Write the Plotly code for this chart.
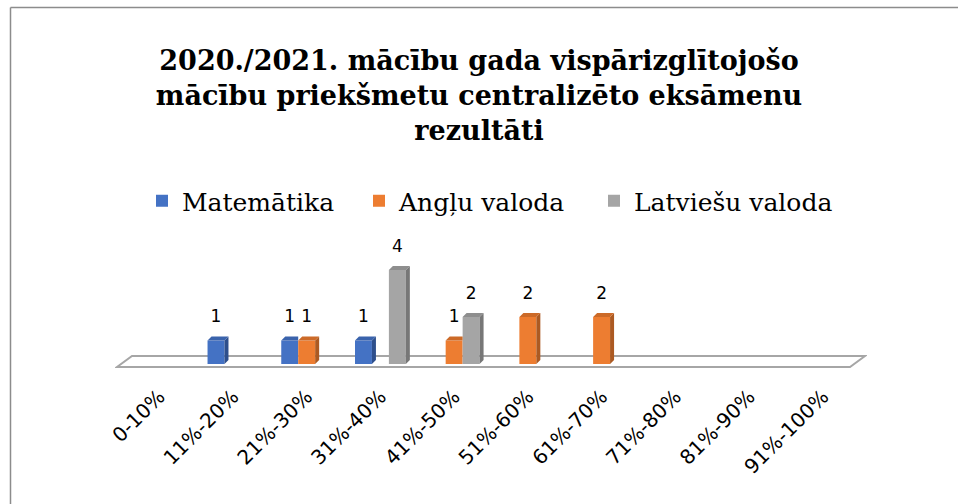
import plotly.graph_objects as go

# ---------------- data ----------------
categories = ["0-10%", "11%-20%", "21%-30%", "31%-40%", "41%-50%",
              "51%-60%", "61%-70%", "71%-80%", "81%-90%", "91%-100%"]
series_names = ["Matemātika", "Angļu valoda", "Latviešu valoda"]
matematika = [0, 1, 1, 1, 0, 0, 0, 0, 0, 0]
anglu_valoda = [0, 0, 1, 0, 1, 2, 2, 0, 0, 0]
latviesu_valoda = [0, 0, 0, 4, 2, 0, 0, 0, 0, 0]
title_lines = ["2020./2021. mācību gada vispārizglītojošo",
               "mācību priekšmetu centralizēto eksāmenu",
               "rezultāti"]

# ---------------- styling ----------------
front_colors = ["#4472C4", "#ED7D31", "#A5A5A5"]
side_colors = ["#2E4F8C", "#AC5A22", "#777777"]
top_colors = ["#3A63AC", "#CC6A28", "#8E8E8E"]
legend_x_px = [142, 359, 594]

W, H = 958, 504
PL, PR = 115, 867          # plot area left/right (px)
PT, PB = 240, 380          # plot area top/bottom (px)
X0, X1 = -0.6, 9.6
BASE_PX = 364              # pixel of value 0
PPU = 23.5                 # pixels per unit
Y0 = (BASE_PX - PB) / PPU
Y1 = (BASE_PX - PT) / PPU
XPU = (PR - PL) / (X1 - X0)
DX = 4 / XPU               # depth offset of 3D faces
DY = 4 / PPU
BARGAP = 0.31
SLOT = (1 - BARGAP) / 3

series = [matematika, anglu_valoda, latviesu_valoda]
legend_ids = ["legend", "legend2", "legend3"]

fig = go.Figure()

# front faces (real bars)
for s, (name, vals) in enumerate(zip(series_names, series)):
    fig.add_trace(go.Bar(
        x=list(range(len(categories))), y=vals, name=name,
        marker=dict(color=front_colors[s], line=dict(width=0)),
        hoverinfo="skip", legend=legend_ids[s],
    ))

# side and top faces for the pseudo-3D look
for s, vals in enumerate(series):
    side_x, side_y, top_x, top_y = [], [], [], []
    for i, v in enumerate(vals):
        if v <= 0:
            continue
        xl = i + (s - 1) * SLOT - SLOT / 2
        xr = xl + SLOT
        nxt = series[s + 1][i] if s + 1 < len(series) else 0
        hidden = nxt > 0 and nxt >= v
        if not hidden:
            side_x += [xr, xr + DX, xr + DX, xr, xr, None]
            side_y += [0, DY, v + DY, v, 0, None]
            top_x += [xl, xl + DX, xr + DX, xr, xl, None]
            top_y += [v, v + DY, v + DY, v, v, None]
        else:
            top_x += [xl, xl + DX, xr, xr, xl, None]
            top_y += [v, v + DY, v + DY, v, v, None]
    if side_x:
        fig.add_trace(go.Scatter(x=side_x, y=side_y, mode="lines", fill="toself",
                                 fillcolor=side_colors[s], line=dict(width=0),
                                 showlegend=False, hoverinfo="skip"))
    if top_x:
        fig.add_trace(go.Scatter(x=top_x, y=top_y, mode="lines", fill="toself",
                                 fillcolor=top_colors[s], line=dict(width=0),
                                 showlegend=False, hoverinfo="skip"))

# data labels
for s, vals in enumerate(series):
    xs = [i + (s - 1) * SLOT for i, v in enumerate(vals) if v > 0]
    ys = [v + 0.95 for v in vals if v > 0]
    ts = [str(v) for v in vals if v > 0]
    fig.add_trace(go.Scatter(x=xs, y=ys, text=ts, mode="text",
                             textfont=dict(family="DejaVu Sans", size=17, color="#000000"),
                             showlegend=False, hoverinfo="skip", cliponaxis=False))

# floor slab
f_front = -3 / PPU
f_back = 8 / PPU
fx_fl = (117 - PL) / XPU + X0
fx_fr = (850 - PL) / XPU + X0
fx_bl = (132 - PL) / XPU + X0
fx_br = (865 - PL) / XPU + X0
fig.add_shape(type="path", xref="x", yref="y", layer="below",
              path=f"M {fx_fl},{f_front} L {fx_fr},{f_front} L {fx_br},{f_back} L {fx_bl},{f_back} Z",
              line=dict(color="#A6A6A6", width=2), fillcolor="#FFFFFF")

# chart border: only the top and left edges fall inside the picture
def px2paper_x(px):
    return (px - PL) / (PR - PL)

def px2paper_y(py):
    return (PB - py) / (PB - PT)

border = dict(color="#8C8C8C", width=1.5)
fig.add_shape(type="line", xref="paper", yref="paper", layer="below",
              x0=px2paper_x(10.5), x1=px2paper_x(W),
              y0=px2paper_y(7.5), y1=px2paper_y(7.5), line=border)
fig.add_shape(type="line", xref="paper", yref="paper", layer="below",
              x0=px2paper_x(10.5), x1=px2paper_x(10.5),
              y0=px2paper_y(7.5), y1=px2paper_y(H), line=border)

legend_common = dict(orientation="h", xref="container", yref="container",
                     xanchor="left", y=1 - 201 / H, yanchor="middle",
                     font=dict(family="DejaVu Serif", size=25, color="#000000"),
                     itemclick=False, itemdoubleclick=False, bgcolor="rgba(0,0,0,0)")

fig.update_layout(
    width=W, height=H,
    margin=dict(l=PL, r=W - PR, t=PT, b=H - PB, pad=0),
    paper_bgcolor="#FFFFFF", plot_bgcolor="rgba(0,0,0,0)",
    barmode="group", bargap=BARGAP, bargroupgap=0,
    title=dict(text="<br>".join(title_lines), x=0.5, xanchor="center",
               y=1 - 70 / H, yanchor="top", yref="container",
               font=dict(family="DejaVu Serif", size=27, color="#000000", weight="bold")),
    legend=dict(x=legend_x_px[0] / W, **legend_common),
    legend2=dict(x=legend_x_px[1] / W, **legend_common),
    legend3=dict(x=legend_x_px[2] / W, **legend_common),
    xaxis=dict(range=[X0, X1], tickmode="array", tickvals=list(range(len(categories))),
               ticktext=categories, tickangle=-45, showgrid=False, zeroline=False,
               showline=False, ticks="", fixedrange=True,
               tickfont=dict(family="DejaVu Sans", size=20, color="#000000")),
    yaxis=dict(range=[Y0, Y1], visible=False, fixedrange=True),
    showlegend=True,
)

fig.write_html("out.html", config={"displayModeBar": False},
               post_script="document.body.style.margin='0';document.body.style.overflow='hidden';")
